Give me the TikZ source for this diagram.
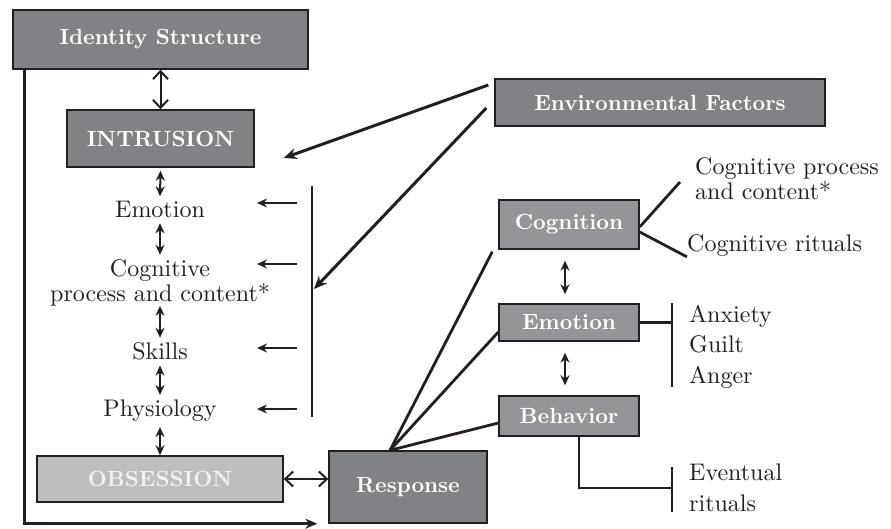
\documentclass[tikz,border=0pt]{standalone}
\usepackage{fontspec}
\setmainfont{lmroman10-regular}[Extension=.otf,BoldFont=lmroman10-bold,ItalicFont=lmroman10-italic]
\usetikzlibrary{arrows.meta,calc}
\definecolor{ink}{HTML}{231F20}
\definecolor{darkbox}{HTML}{808285}
\definecolor{midbox}{HTML}{939598}
\definecolor{lightbox}{HTML}{BCBEC0}
\definecolor{obstext}{HTML}{F1F1F2}
\begin{document}
\begin{tikzpicture}[x=1pt,y=-1pt,
  box/.style={draw=ink,line width=1.4pt,text=white,font=\fontsize{22}{24}\selectfont\bfseries,inner sep=0pt},
  dark/.style={box,fill=darkbox},
  mid/.style={box,fill=midbox},
  lbl/.style={text=ink,font=\fontsize{24}{25}\selectfont,inner xsep=0pt,inner ysep=5pt,align=center},
  rlbl/.style={text=ink,inner sep=0pt,align=left,anchor=west},
  conn/.style={draw=ink,line width=2.8pt},
  dbl/.style={draw=ink,line width=2pt,{Stealth[length=10pt,width=9pt]}-{Stealth[length=10pt,width=9pt]}},
  obar/.style={draw=ink,line width=2pt,{Straight Barb[length=8pt,width=15pt]}-{Straight Barb[length=8pt,width=15pt]}},
  lar/.style={draw=ink,line width=2.4pt,-{Stealth[length=10pt,width=9pt]}},
  bigar/.style={draw=ink,line width=3pt,-{Stealth[length=13pt,width=11pt]}}
]
\useasboundingbox (0,0) rectangle (891,529);

% boxes
\node[dark,minimum width=295pt,minimum height=59pt] (ident) at (160.5,39.5) {Identity Structure};
\node[dark,minimum width=187pt,minimum height=57pt] (intr) at (160.5,138.5) {INTRUSION};
\node[dark,minimum width=330pt,minimum height=47pt] (env) at (660,102.5) {Environmental Factors};
\node[mid,minimum width=140pt,minimum height=49pt] (cog) at (569,224.5) {Cognition};
\node[mid,minimum width=140pt,minimum height=37pt] (emo) at (569,322.5) {Emotion};
\node[mid,minimum width=140pt,minimum height=40pt] (beh) at (569,416) {Behavior};
\node[dark,minimum width=158pt,minimum height=72pt] (resp) at (408,487) {Response};
\node[box,fill=lightbox,text=obstext,minimum width=246pt,minimum height=46pt] (obs) at (160,479) {OBSESSION};

% left column texts
\node[lbl] (lemo) at (160,209.8) {Emotion};
\node[lbl] (lcog) at (160,283.3) {Cognitive\\process and content*};
\node[lbl] (lski) at (160,351.7) {Skills};
\node[lbl] (lphy) at (160,411) {Physiology};

% right texts
\node[rlbl,font=\fontsize{24}{25}\selectfont] (rcogp) at (695,179) {Cognitive process\\and content*};
\node[rlbl,font=\fontsize{24}{25}\selectfont] (rcogr) at (687,245.9) {Cognitive rituals};
\node[rlbl,font=\fontsize{24}{30.5}\selectfont] (remo) at (689,346.6) {Anxiety\\Guilt\\Anger};
\node[rlbl,font=\fontsize{24}{31}\selectfont] (rbeh) at (689,488.2) {Eventual\\rituals};

% left column arrows
\draw[obar] (ident.south) -- (intr.north);
\draw[dbl] ($(intr.south)+(0,3)$) -- (lemo.north);
\draw[dbl] (lemo.south) -- (lcog.north);
\draw[dbl] ($(lcog.south)+(0,-6)$) -- (lski.north);
\draw[dbl] (lski.south) -- (lphy.north);
\draw[dbl] (lphy.south) -- (obs.north);

% vertical bar and arrows to the column
\coordinate (bartop) at (312,186);
\coordinate (barbot) at (312,417);
\draw[conn] (bartop) -- (barbot);
\coordinate (a1s) at (297,203); \coordinate (a1e) at (257,203);
\coordinate (a2s) at (297,264); \coordinate (a2e) at (257,264);
\coordinate (a3s) at (297,348); \coordinate (a3e) at (257,348);
\coordinate (a4s) at (297,409); \coordinate (a4e) at (257,409);
\draw[lar] (a1s) -- (a1e);
\draw[lar] (a2s) -- (a2e);
\draw[lar] (a3s) -- (a3e);
\draw[lar] (a4s) -- (a4e);

% environmental factors arrows
\draw[bigar] ($(env.west)+(-6,-17.5)$) -- ($(intr.east)+(29,19.5)$);
\coordinate (barhit) at (314,289);
\draw[bigar] ($(env.west)+(-8,5.5)$) -- (barhit);

% identity to response long arrow
\draw[draw=ink,line width=2.8pt,-{Stealth[length=12pt,width=10pt]}]
  ([xshift=12pt]ident.south west) |- ($(resp.south west)+(-11,0)$);

% obsession <-> response
\draw[obar] (obs.east) -- (obs.east -| resp.west);

% response fan
\coordinate (rtop) at ($(resp.north)+(-18,0)$);
\draw[conn] (rtop) -- ($(cog.south west)+(-6,2)$);
\draw[conn] (rtop) -- ($(emo.west)+(0,9.5)$);
\draw[conn] (rtop) -- ($(beh.west)+(0,7)$);

% right column double arrows
\draw[dbl] ($(cog.south)+(-4,11)$) -- ($(emo.north)+(-4,-9)$);
\draw[dbl] ($(emo.south)+(-4,11)$) -- ($(beh.north)+(-4,-10)$);

% cognition branches
\draw[conn] ($(cog.east)+(0,2.5)$) -- ($(rcogp.west)+(-15,3)$);
\draw[conn] ($(cog.east)+(0,7.5)$) -- ($(rcogr.west)+(0,11)$);

% emotion bracket
\coordinate (b1top) at (672,303);
\coordinate (b1bot) at (672,387);
\draw[conn] (b1top) -- (b1bot);
\draw[conn] (emo.east) -- (emo.east -| b1top);

% behavior bracket
\coordinate (b2top) at (672,467);
\coordinate (b2bot) at (672,512);
\coordinate (b2mid) at (672,488);
\draw[conn] (b2top) -- (b2bot);
\draw[conn] ($(beh.south)+(10,0)$) |- (b2mid);
\end{tikzpicture}
\end{document}
